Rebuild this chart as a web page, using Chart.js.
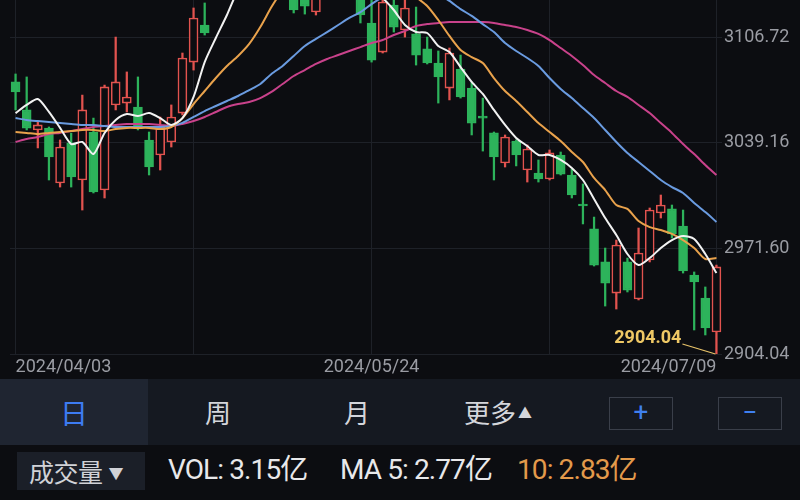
<!DOCTYPE html>
<html>
<head>
<meta charset="utf-8">
<script src="https://cdn.jsdelivr.net/npm/chart.js@4.4.1/dist/chart.umd.min.js"></script>
<style>
  body { margin: 0; background: #0c0d11; width: 800px; height: 500px; overflow: hidden; position: relative; font-family: Roboto, "Noto Sans CJK SC", sans-serif; }
  #wrap { position: absolute; left: 0; top: 0; width: 800px; height: 378px; }
  #tabs { position: absolute; left: 0; top: 379px; width: 800px; height: 66px; background: #151921; }
  .tab { position: absolute; top: 0; height: 66px; line-height: 66px; font-size: 26px; color: #d4d6db; text-align: center; font-family: "Noto Sans CJK SC", sans-serif; }
  .tab.on { background: #1f2531; color: #3d7cf2; font-size: 28px; }
  .tri { font-size: 14px; vertical-align: 5px; margin-left: 2px; }
  .btn { position: absolute; top: 18px; width: 62px; height: 31px; border: 1px solid #3a3f4a; color: #3f80f0; font-size: 26px; line-height: 29px; text-align: center; }
  #vol { position: absolute; left: 0; top: 445px; width: 800px; height: 55px; }
  .volbtn { position: absolute; left: 17px; top: 7px; width: 128px; height: 38px; background: #1b1f28; color: #d0d2d7; font-size: 25px; line-height: 38px; font-family: "Noto Sans CJK SC", sans-serif; text-align: left; padding-left: 12px; box-sizing: border-box; letter-spacing: -0.5px; }
  .volbtn span { font-size: 15px; vertical-align: 3px; margin-left: 6px; }
  .t { position: absolute; top: 7px; font-size: 28px; line-height: 36px; color: #e8e8ea; letter-spacing: -0.9px; white-space: nowrap; }
</style>
</head>
<body>
<div id="wrap"><canvas id="kChart" width="800" height="378"></canvas></div>
<div id="tabs">
  <div class="tab on" style="left:0;width:148px">日</div>
  <div class="tab" style="left:178px;width:80px">周</div>
  <div class="tab" style="left:317px;width:80px">月</div>
  <div class="tab" style="left:446px;width:104px">更多<span class="tri">▲</span></div>
  <div class="btn" style="left:609px">+</div>
  <div class="btn" style="left:718px">−</div>
</div>
<div id="vol">
  <div class="volbtn">成交量<span>▼</span></div>
  <span class="t" style="left:168px">VOL: 3.15亿</span>
  <span class="t" style="left:340px">MA 5: 2.77亿</span>
  <span class="t" style="left:517px;color:#e39a4b">10: 2.83亿</span>
</div>
<script>
const dates = ['2024/04/03','2024/04/08','2024/04/09','2024/04/10','2024/04/11','2024/04/12','2024/04/15','2024/04/16','2024/04/17','2024/04/18','2024/04/19','2024/04/22','2024/04/23','2024/04/24','2024/04/25','2024/04/26','2024/04/29','2024/04/30',
  '2024/05/06','2024/05/07','2024/05/08','2024/05/09','2024/05/10','2024/05/13','2024/05/14','2024/05/15','2024/05/16','2024/05/17','2024/05/20','2024/05/21','2024/05/22','2024/05/23','2024/05/24','2024/05/27','2024/05/28','2024/05/29','2024/05/30','2024/05/31',
  '2024/06/03','2024/06/04','2024/06/05','2024/06/06','2024/06/07','2024/06/11','2024/06/12','2024/06/13','2024/06/14','2024/06/17','2024/06/18','2024/06/19','2024/06/20','2024/06/21','2024/06/24','2024/06/25','2024/06/26','2024/06/27','2024/06/28',
  '2024/07/01','2024/07/02','2024/07/03','2024/07/04','2024/07/05','2024/07/08','2024/07/09'];

const opens = [3078.0,3060.1,3047.3,3048.5,3013.4,3039.0,3015.3,3046.0,3008.9,3063.3,3064.5,3062.0,3040.9,3031.3,3039.6,3058.1,3090.7,3114.4,
  3133.0,3140.0,3145.0,3137.0,3153.0,3152.0,3146.0,3141.0,3131.5,3122.7,3154.0,3168.0,3154.0,3155.0,3115.7,3097.1,3127.2,3111.2,3108.7,3099.1,
  3090.1,3074.1,3086.3,3074.1,3056.2,3045.4,3026.2,3040.2,3021.7,3019.8,3016.0,3031.3,3018.5,2999.9,2984.0,2962.9,2943.0,2962.9,2939.2,
  2964.2,2994.2,2996.8,2985.9,2954.5,2939.8,2918.1];
const highs = [3083.1,3081.2,3052.4,3049.2,3040.9,3045.3,3069.6,3054.9,3076.0,3106.7,3084.4,3081.2,3046.0,3055.6,3063.3,3096.5,3125.3,3128.5,
  3142.0,3150.0,3147.0,3156.0,3159.0,3156.0,3151.0,3146.0,3136.0,3158.0,3174.3,3170.0,3162.0,3160.0,3131.0,3131.5,3131.0,3131.5,3125.9,3106.7,
  3097.8,3099.7,3095.2,3078.0,3067.7,3046.0,3044.1,3041.0,3037.7,3028.1,3034.5,3033.2,3022.3,3012.8,2991.6,2971.8,2976.9,2965.4,2984.6,
  2997.4,3005.7,2999.3,2996.1,2956.5,2946.9,2960.9];
const lows = [3060.1,3047.3,3035.8,3015.3,3010.8,3010.8,2996.1,3007.0,3003.8,3060.1,3058.8,3047.3,3018.5,3021.7,3036.4,3056.9,3085.6,3108.0,
  3131.5,3136.0,3133.0,3135.0,3146.0,3140.0,3137.0,3122.1,3121.4,3120.8,3150.0,3153.0,3146.0,3115.7,3090.7,3096.5,3109.9,3106.7,3088.8,3089.5,
  3064.5,3066.5,3067.7,3044.1,3033.8,3015.3,3023.6,3024.3,3014.0,3014.0,3015.3,3018.5,3003.8,2987.2,2960.3,2934.7,2932.8,2943.7,2938.6,
  2962.9,2991.0,2978.2,2955.8,2919.4,2916.2,2904.04];
const closes = [3071.6,3048.5,3050.5,3030.0,3036.4,3017.2,3060.1,3007.6,3074.8,3078.0,3068.4,3048.5,3023.6,3049.2,3055.6,3093.3,3118.9,3109.3,
  3140.0,3147.0,3136.0,3154.0,3155.0,3148.0,3145.0,3124.0,3126.5,3154.0,3171.0,3157.0,3158.0,3120.8,3092.0,3129.1,3113.1,3125.3,3095.2,3090.1,
  3081.2,3096.5,3068.4,3051.7,3054.9,3030.0,3042.8,3031.3,3035.1,3016.0,3032.6,3019.1,3005.7,2998.7,2960.9,2949.4,2973.7,2944.9,2968.6,
  2996.1,2999.3,2980.8,2957.1,2950.1,2920.7,2959.7];

const ma5 = [3058.1,3063.3,3067.1,3058.8,3048.6,3038.3,3039.6,3031.9,3045.4,3053.7,3057.5,3056.2,3058.1,3054.9,3050.5,3054.9,3068.4,3090.7,
  3106.1,3120.8,3136.8,3146.4,3156.0,3162.4,3165.6,3162.4,3159.2,3159.2,3159.2,3159.2,3154.7,3146.4,3138.1,3131.7,3124.0,3114.4,3109.9,3109.3,
  3101.0,3097.1,3087.5,3078.0,3070.3,3060.1,3050.5,3042.2,3037.0,3031.3,3031.3,3028.1,3023.0,3015.3,3003.2,2991.0,2980.1,2968.0,2960.9,
  2965.4,2971.8,2976.9,2979.5,2977.6,2968.0,2955.8];
const ma10 = [3046.0,3045.4,3044.7,3045.4,3046.0,3046.6,3047.3,3047.3,3046.6,3047.9,3048.6,3048.6,3048.6,3047.9,3049.2,3054.9,3063.9,3072.2,
  3080.5,3088.2,3094.6,3102.3,3113.1,3125.9,3136.8,3146.4,3154.7,3161.1,3165.6,3165.6,3162.4,3159.2,3154.7,3149.6,3143.2,3138.1,3132.3,3126.6,
  3117.6,3107.4,3098.4,3093.9,3090.1,3080.5,3072.2,3065.8,3058.8,3051.7,3046.0,3040.2,3033.2,3026.8,3016.6,3008.9,2999.3,2996.8,2989.1,
  2985.2,2983.3,2980.8,2976.9,2971.8,2964.8,2965.4];
const ma20 = [3054.9,3053.7,3053.0,3052.4,3051.8,3051.1,3050.5,3050.5,3049.8,3049.2,3049.2,3049.2,3049.2,3049.2,3049.8,3051.8,3055.6,3059.4,
  3062.6,3065.8,3069.0,3072.8,3076.7,3083.1,3088.2,3094.6,3101.0,3105.5,3109.9,3114.4,3118.9,3122.7,3127.8,3132.3,3135.5,3138.1,3139.3,3138.1,
  3134.2,3129.8,3124.6,3120.2,3115.0,3109.9,3102.9,3097.8,3093.3,3088.2,3080.5,3073.5,3067.7,3061.3,3054.9,3047.3,3039.6,3032.6,3026.8,
  3021.1,3015.3,3010.8,3007.0,3000.6,2994.8,2988.5];
const ma30 = [3039.6,3041.5,3042.8,3044.7,3045.4,3046.6,3047.9,3049.2,3049.8,3050.5,3051.1,3051.1,3051.1,3050.5,3049.8,3051.1,3053.0,3055.6,
  3058.8,3062.0,3063.9,3065.2,3067.7,3071.6,3076.7,3081.8,3085.6,3089.5,3092.7,3095.2,3097.8,3100.3,3102.9,3104.8,3108.0,3110.6,3113.8,3115.0,
  3115.7,3116.3,3116.3,3116.3,3116.3,3115.7,3114.4,3113.1,3111.2,3108.7,3104.8,3099.7,3094.6,3088.8,3082.4,3077.3,3072.2,3068.4,3063.3,
  3058.1,3051.7,3045.4,3038.3,3031.9,3024.9,3018.5];

const yTicks = [2904.04, 2971.60, 3039.16, 3106.72];
const xLabelIdx = [0, 32, 63];
const xGridIdx = [0, 16, 32, 48, 63];

const RED = '#e2534f';
const GREEN = '#2db35b';
const BG = '#0c0d11';
const GRID = '#1e2128';
const AXIS_TXT = '#9a9ca3';

const isUp = closes.map((c, i) => c >= opens[i]);

// yellow label + pointer line at the lowest low of the last candle
const lowLabel = {
  id: 'lowLabel',
  afterDatasetsDraw(chart) {
    const i = lows.length - 1;
    const x = chart.scales.x.getPixelForValue(i);
    const y = chart.scales.y.getPixelForValue(lows[i]);
    const c = chart.ctx;
    c.save();
    c.strokeStyle = '#e9c46a';
    c.lineWidth = 1.2;
    c.beginPath();
    c.moveTo(x - 1, y);
    c.lineTo(x - 34, y - 10);
    c.stroke();
    c.fillStyle = '#efc865';
    c.font = 'bold 18px Roboto';
    c.textAlign = 'right';
    c.textBaseline = 'middle';
    c.fillText(lows[i].toFixed(2), x - 35, y - 16);
    c.restore();
  }
};

new Chart(document.getElementById('kChart'), {
  type: 'bar',
  data: {
    labels: dates,
    datasets: [
      { type: 'line', data: ma5, borderColor: '#f2f2f2', borderWidth: 2, pointRadius: 0, tension: 0.25, order: 0 },
      { type: 'line', data: ma10, borderColor: '#e9a24c', borderWidth: 2, pointRadius: 0, tension: 0.25, order: 0 },
      { type: 'line', data: ma20, borderColor: '#6a9be0', borderWidth: 2, pointRadius: 0, tension: 0.25, order: 0 },
      { type: 'line', data: ma30, borderColor: '#c9428b', borderWidth: 2, pointRadius: 0, tension: 0.25, order: 0 },
      {
        data: opens.map((o, i) => [o, closes[i]]),
        backgroundColor: isUp.map(u => u ? BG : GREEN),
        borderColor: isUp.map(u => u ? RED : GREEN),
        borderWidth: 1.6, borderSkipped: false,
        barThickness: 9, grouped: false, order: 1
      },
      {
        data: lows.map((l, i) => [l, highs[i]]),
        backgroundColor: isUp.map(u => u ? RED : GREEN),
        borderWidth: 0,
        barThickness: 1.6, grouped: false, order: 2
      }
    ]
  },
  options: {
    responsive: false,
    animation: false,
    layout: { padding: { left: 10, top: 0, right: 0, bottom: 0 } },
    plugins: { legend: { display: false }, tooltip: { enabled: false } },
    scales: {
      x: {
        offset: true,
        grid: { offset: false, drawTicks: false, color: ctx => xGridIdx.includes(ctx.index) ? GRID : 'rgba(0,0,0,0)' },
        border: { display: false },
        ticks: {
          autoSkip: false, maxRotation: 0, align: 'inner', padding: 3,
          color: AXIS_TXT, font: { size: 18, family: 'Roboto' },
          callback: (v, i) => xLabelIdx.includes(i) ? dates[i] : ''
        },
        afterFit: s => { s.height = 24; s.paddingLeft = 0; s.paddingRight = 0; }
      },
      y: {
        position: 'right',
        min: 2904.04,
        max: 3130.4,
        afterBuildTicks: s => { s.ticks = yTicks.map(v => ({ value: v })); },
        grid: { color: GRID, drawTicks: false },
        border: { display: false },
        ticks: { color: AXIS_TXT, padding: 2, font: { size: 18, family: 'Roboto' }, callback: v => v.toFixed(2) },
        afterFit: s => { s.width = 78; s.paddingTop = 0; s.paddingBottom = 0; }
      }
    }
  },
  plugins: [lowLabel]
});
</script>
</body>
</html>
